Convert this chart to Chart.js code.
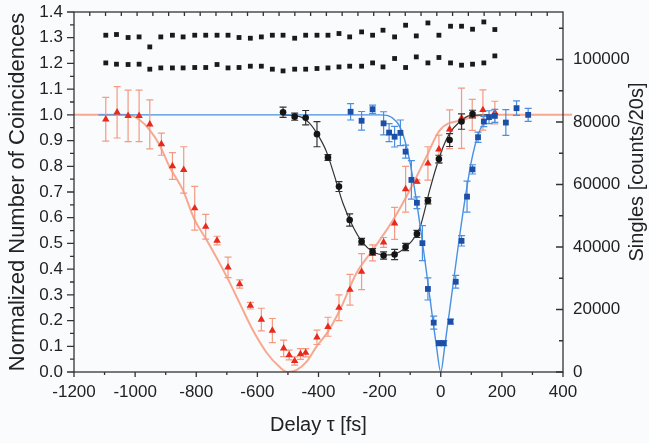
<!DOCTYPE html>
<html>
<head>
<meta charset="utf-8">
<script src="https://cdn.jsdelivr.net/npm/chart.js@4.4.0/dist/chart.umd.min.js"></script>
<style>
  html, body { margin: 0; padding: 0; background: #fafbfd; }
</style>
</head>
<body>
<canvas id="myChart" width="649" height="443"></canvas>
<script>
// singles (right axis), two detectors
const singlesDelay = [-1096, -1061, -1023, -987, -952, -916, -878, -843, -805, -769, -732, -696,
  -660, -623, -587, -551, -516, -478, -442, -405, -369, -333, -298, -259, -223, -189,
  -151, -115, -80, -42, -6, 32, 68, 104, 141, 177];
const singlesUpper = [107770, 108000, 107040, 107230, 104030, 107230, 107770, 107230, 107770, 107770, 107770, 107770,
  107040, 106810, 107230, 107770, 107770, 106810, 107770, 107770, 107770, 108310, 107230, 108830, 107770, 109370,
  107230, 110970, 107550, 111700, 107770, 110650, 110650, 109690, 112020, 109590];
const singlesLower = [98910, 98500, 98400, 98500, 96900, 97310, 97310, 97310, 97440, 97440, 98400, 97310,
  97440, 97860, 97860, 96900, 96350, 96900, 96900, 97120, 97310, 97630, 97860, 97860, 98910, 97630,
  100320, 97440, 100830, 98910, 100640, 98910, 98180, 98500, 98910, 101150];

// red triangles
const redDelay = [-1096, -1059, -1023, -987, -952, -914, -878, -841, -805, -769, -732, -696, -658, -623,
  -587, -551, -514, -496, -478, -459, -442, -405, -369, -333, -297, -259, -223, -187, -151, -115,
  -78, -42, -6, 29, 68, 103, 138, 177];
const redValue = [0.983, 1.010, 0.996, 0.996, 0.963, 0.886, 0.801, 0.786, 0.637, 0.565, 0.511, 0.407, 0.342, 0.258,
  0.204, 0.161, 0.092, 0.066, 0.043, 0.070, 0.075, 0.135, 0.176, 0.25, 0.32, 0.39, 0.463, 0.504, 0.578, 0.711,
  0.740, 0.811, 0.866, 0.944, 0.987, 1.0, 1.019, 1.009];
const redErr = [0.085, 0.10, 0.10, 0.10, 0.095, 0.043, 0.052, 0.09, 0.085, 0.048, 0.017, 0.04, 0.016, 0.013,
  0.044, 0.047, 0.032, 0.019, 0.016, 0.021, 0.016, 0.028, 0.037, 0.05, 0.06, 0.07, 0.031, 0.019, 0.062, 0.089,
  0.007, 0.065, 0.055, 0.075, 0.117, 0.06, 0.078, 0.044];

// black circles
const blackDelay = [-516, -478, -442, -405, -369, -333, -298, -259, -223, -187, -151, -115, -78, -42, -6, 29, 68, 104];
const blackValue = [1.010, 0.993, 0.989, 0.925, 0.834, 0.721, 0.591, 0.507, 0.467, 0.453, 0.457, 0.486, 0.537, 0.666,
  0.828, 0.902, 0.974, 1.003];
const blackErr = [0.020, 0.014, 0.028, 0.049, 0.011, 0.019, 0.024, 0.013, 0.013, 0.014, 0.02, 0.014, 0.014, 0.012,
  0.015, 0.025, 0.03, 0.015];

// blue squares
const blueDelay = [-295, -259, -223, -187, -169, -151, -132, -115, -96, -78, -60, -42, -23, -6, 10, 32, 49, 68,
  86, 104, 122, 141, 158, 177, 213, 248, 286];
const blueValue = [1.012, 0.977, 1.022, 0.967, 0.931, 0.915, 0.930, 0.857, 0.747, 0.658, 0.501, 0.323, 0.192, 0.112,
  0.112, 0.196, 0.351, 0.510, 0.682, 0.788, 0.913, 0.974, 0.991, 0.996, 0.970, 1.026, 1.000];
const blueErr = [0.032, 0.036, 0.016, 0.045, 0.035, 0.04, 0.05, 0.025, 0.075, 0.023, 0.068, 0.043, 0.025, 0.01,
  0.01, 0.01, 0.025, 0.02, 0.06, 0.018, 0.02, 0.02, 0.025, 0.025, 0.05, 0.028, 0.025];

// fitted curves
const redFitDelay = [-1200, -1027, -985, -952, -920, -887, -844, -805, -766, -700, -658, -615, -569, -527, -501,
  -471, -439, -407, -369, -330, -276, -222, -156, -101, -47, -3, 72, 128, 183, 430];
const redFitValue = [1.0, 1.0, 0.98, 0.941, 0.883, 0.797, 0.708, 0.591, 0.513, 0.370, 0.268, 0.163, 0.074, 0.019, 0.0,
  0.008, 0.040, 0.098, 0.157, 0.241, 0.384, 0.475, 0.591, 0.708, 0.837, 0.941, 0.98, 0.998, 1.0, 1.0];
const blackFitDelay = [-517, -461, -429, -402, -374, -347, -320, -287, -254, -222, -178, -134, -101, -69, -36, -14,
  8, 29, 62, 95, 160];
const blackFitValue = [1.0, 0.993, 0.967, 0.922, 0.857, 0.760, 0.656, 0.565, 0.501, 0.468, 0.455, 0.468, 0.501, 0.559,
  0.708, 0.799, 0.876, 0.928, 0.973, 0.997, 1.0];
const blueFitDelay = [-1120, -200, -145, -123, -101, -80, -58, -36, -14, 0, 13, 35, 57, 79, 100, 122, 144, 171, 180];
const blueFitValue = [1.0, 1.0, 0.974, 0.922, 0.818, 0.669, 0.488, 0.293, 0.1, 0.0, 0.1, 0.293, 0.488, 0.669, 0.818,
  0.922, 0.974, 0.998, 1.0];

const xTicks = [-1200, -1000, -800, -600, -400, -200, 0, 200, 400];
const singlesTicks = [0, 20000, 40000, 60000, 80000, 100000];

function pts(xs, ys) {
    return xs.map((x, i) => ({x: x, y: ys[i]}));
}

// error bars, drawn right before the markers of each dataset
const errorBars = {
    id: 'errorBars',
    beforeDatasetDraw(chart, args) {
        const ds = chart.data.datasets[args.index];
        if (!ds.errs) return;
        const ctx = chart.ctx;
        const yScale = chart.scales.y;
        ctx.save();
        ctx.strokeStyle = ds.errColor;
        ctx.lineWidth = 1.2;
        args.meta.data.forEach((p, i) => {
            const v = ds.data[i].y;
            const e = ds.errs[i];
            const top = yScale.getPixelForValue(v + e);
            const bot = yScale.getPixelForValue(v - e);
            ctx.beginPath();
            ctx.moveTo(p.x, top);
            ctx.lineTo(p.x, bot);
            ctx.moveTo(p.x - 3.5, top);
            ctx.lineTo(p.x + 3.5, top);
            ctx.moveTo(p.x - 3.5, bot);
            ctx.lineTo(p.x + 3.5, bot);
            ctx.stroke();
        });
        ctx.restore();
    }
};

// box with major / minor ticks like the original plot
const frameTicks = {
    id: 'frameTicks',
    afterDatasetsDraw(chart) {
        const {ctx, chartArea: a, scales} = chart;
        const x = scales.x, y = scales.y, y2 = scales.y2;
        ctx.save();
        ctx.strokeStyle = '#333';
        ctx.lineWidth = 1.3;
        ctx.strokeRect(a.left, a.top, a.right - a.left, a.bottom - a.top);
        ctx.beginPath();
        // bottom, outward
        for (let v = x.min; v <= x.max; v += 100) {
            const px = x.getPixelForValue(v);
            const len = (v % 200 === 0) ? 5 : 3;
            ctx.moveTo(px, a.bottom);
            ctx.lineTo(px, a.bottom + len);
        }
        // top, inward
        const topStep = (x.max - x.min) / 31;
        for (let k = 1; k < 31; k++) {
            const px = x.getPixelForValue(x.min + k * topStep);
            ctx.moveTo(px, a.top);
            ctx.lineTo(px, a.top + 4);
        }
        // left, outward
        for (let k = 0; k <= 28; k++) {
            const py = y.getPixelForValue(k * 0.05);
            const len = (k % 2 === 0) ? 7 : 4;
            ctx.moveTo(a.left, py);
            ctx.lineTo(a.left - len, py);
        }
        // right, inward
        for (let v = 0; v <= y2.max; v += 10000) {
            const py = y2.getPixelForValue(v);
            const len = (v % 20000 === 0) ? 7 : 4;
            ctx.moveTo(a.right, py);
            ctx.lineTo(a.right - len, py);
        }
        ctx.stroke();

        // right axis title, reads bottom to top and sits a bit above the middle
        ctx.translate(a.right + 74, y2.getPixelForValue(64000));
        ctx.rotate(-Math.PI / 2);
        ctx.font = '20px "Liberation Sans"';
        ctx.fillStyle = '#222';
        ctx.textAlign = 'center';
        ctx.textBaseline = 'middle';
        ctx.fillText('Singles [counts/20s]', 0, 0);
        ctx.restore();
    }
};

const ctx = document.getElementById('myChart').getContext('2d');
const tickFont = {family: 'Liberation Sans', size: 17};
const titleFont = {family: 'Liberation Sans', size: 20};

function fixV(w) {
    return (s) => { s.width = w; s.paddingTop = 0; s.paddingBottom = 0; };
}

const myChart = new Chart(ctx, {
    type: 'line',
    data: {
        datasets: [
            {
                data: pts(singlesDelay, singlesUpper), yAxisID: 'y2', showLine: false,
                pointStyle: 'rect', pointRadius: 3.4, backgroundColor: '#1a1a1a', borderWidth: 0
            },
            {
                data: pts(singlesDelay, singlesLower), yAxisID: 'y2', showLine: false,
                pointStyle: 'rect', pointRadius: 3.4, backgroundColor: '#1a1a1a', borderWidth: 0
            },
            {
                data: pts(blueDelay, blueValue), errs: blueErr, errColor: '#4a8fe0', showLine: false,
                pointStyle: 'rect', pointRadius: 4.1, backgroundColor: '#1d4fa6', borderWidth: 0
            },
            {
                data: pts(blackDelay, blackValue), errs: blackErr, errColor: '#333', showLine: false,
                pointStyle: 'circle', pointRadius: 3.3, backgroundColor: '#151515', borderWidth: 0
            },
            {
                data: pts(redDelay, redValue), errs: redErr, errColor: '#f39a80', showLine: false,
                pointStyle: 'triangle', pointRadius: 4.3, backgroundColor: '#e8291c', borderWidth: 0
            },
            {
                data: pts(blueFitDelay, blueFitValue), borderColor: '#4a90e2', borderWidth: 1.4,
                pointRadius: 0, cubicInterpolationMode: 'monotone'
            },
            {
                data: pts(blackFitDelay, blackFitValue), borderColor: '#333', borderWidth: 1.2,
                pointRadius: 0, cubicInterpolationMode: 'monotone'
            },
            {
                data: pts(redFitDelay, redFitValue), borderColor: '#f7a98f', borderWidth: 2,
                pointRadius: 0, cubicInterpolationMode: 'monotone',
                clip: {left: 0, top: 0, right: 10, bottom: 0}
            }
        ]
    },
    options: {
        responsive: false,
        animation: false,
        layout: {padding: {top: 12, left: 0, right: 0, bottom: 0}},
        plugins: {legend: {display: false}, tooltip: {enabled: false}},
        scales: {
            x: {
                type: 'linear', min: -1200, max: 400,
                afterBuildTicks: (s) => { s.ticks = xTicks.map(v => ({value: v})); },
                afterFit: (s) => { s.height = 71; s.paddingLeft = 0; s.paddingRight = 0; },
                grid: {display: false}, border: {display: false},
                ticks: {font: tickFont, color: '#222', padding: 2, maxRotation: 0,
                        callback: (v) => String(v)},
                title: {display: true, text: 'Delay τ [fs]', font: titleFont, color: '#222',
                        padding: {top: 0, bottom: 6}}
            },
            y: {
                position: 'left', min: 0, max: 1.4,
                afterFit: fixV(74),
                grid: {display: false}, border: {display: false},
                ticks: {stepSize: 0.1, font: tickFont, color: '#222', padding: 3,
                        callback: (v) => v.toFixed(1)},
                title: {display: true, text: 'Normalized Number of Coincidences',
                        font: {family: 'Liberation Sans', size: 22},
                        color: '#222', padding: {top: 5, bottom: 0}}
            },
            y2: {
                position: 'right', min: 0, max: 115200,
                afterBuildTicks: (s) => { s.ticks = singlesTicks.map(v => ({value: v})); },
                afterFit: fixV(86),
                grid: {display: false}, border: {display: false},
                ticks: {font: tickFont, color: '#222', padding: 2,
                        callback: (v) => String(v)}
            }
        }
    },
    plugins: [errorBars, frameTicks]
});
</script>
</body>
</html>
